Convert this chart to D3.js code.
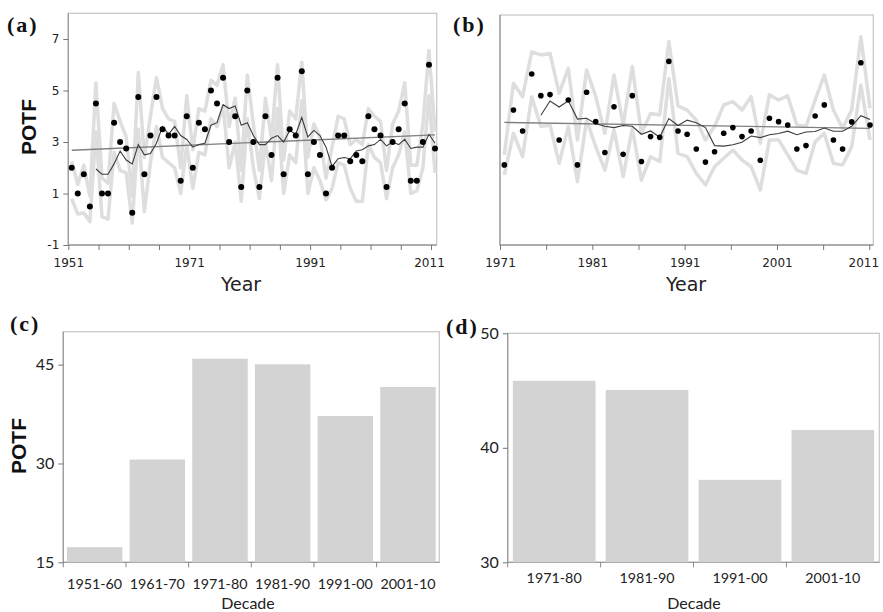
<!DOCTYPE html>
<html>
<head>
<meta charset="utf-8">
<script src="https://cdn.jsdelivr.net/npm/d3@7"></script>
<style>
  body { margin: 0; background: #fff; }
  svg { display: block; }
</style>
</head>
<body>
<div id="chart"></div>
<script>
// ---- data ----
const yearsA = d3.range(1951, 2012);
const potfA = [2.0, 1.0, 1.75, 0.5, 4.5, 1.0, 1.0, 3.75, 3.0, 2.75,
  0.25, 4.75, 1.75, 3.25, 4.75, 3.5, 3.25, 3.25, 1.5, 4.0,
  2.0, 3.75, 3.5, 5.0, 4.5, 5.5, 3.0, 4.0, 1.25, 5.0,
  3.0, 1.25, 4.0, 2.5, 5.5, 1.75, 3.5, 3.25, 5.75, 1.75,
  3.0, 2.5, 1.0, 2.0, 3.25, 3.25, 2.25, 2.5, 2.25, 4.0,
  3.5, 3.25, 1.25, 3.0, 3.5, 4.5, 1.5, 1.5, 3.0, 6.0,
  2.75];
const upperA = [2.25, 1.35, 2.1, 0.9, 5.3, 1.6, 1.4, 4.5, 3.8, 3.2,
  0.9, 5.7, 2.4, 4.0, 5.5, 4.3, 3.9, 3.8, 2.0, 4.8,
  2.7, 4.3, 4.2, 5.4, 5.2, 6.0, 3.6, 4.7, 1.9, 5.6,
  3.7, 1.9, 4.7, 3.1, 6.0, 2.3, 4.2, 3.9, 6.1, 2.4,
  3.7, 3.2, 1.6, 2.8, 4.0, 3.9, 2.9, 3.1, 2.9, 4.3,
  4.0, 3.8, 1.9, 3.7, 4.2, 5.3, 2.1, 2.1, 3.7, 6.55,
  3.4];
const lowerA = [0.8, 0.2, 0.25, -0.1, 3.4, 0.1, 0.0, 2.6, 1.9, 1.8,
  -0.15, 3.5, 0.3, 2.2, 3.6, 2.4, 2.2, 2.0, 1.0, 2.9,
  1.2, 2.6, 2.5, 3.9, 3.6, 4.4, 2.0, 3.0, 0.7, 3.9,
  2.0, 0.8, 3.0, 1.5, 4.3, 1.0, 2.5, 2.2, 4.6, 1.0,
  2.0, 1.5, 0.75, 1.2, 2.2, 2.1, 1.2, 0.7, 0.7, 2.9,
  2.4, 2.2, 0.8, 2.0, 2.5, 3.4, 1.0, 1.1, 2.0, 4.8,
  1.8];
const maYearsA = d3.range(1955, 2012);
const maA = [1.95, 1.75, 1.75, 2.15, 2.65, 2.3,
  2.15, 2.9, 2.5, 2.55, 2.95, 3.6, 3.3, 3.6, 3.25, 3.1,
  2.8, 2.9, 2.95, 3.65, 3.75, 4.45, 4.3, 4.4, 3.65, 3.75,
  3.25, 2.9, 2.9, 3.15, 3.25, 3.0, 3.45, 3.3, 3.95, 3.2,
  3.45, 3.25, 2.8, 2.05, 2.35, 2.4, 2.35, 2.65, 2.7, 2.85,
  2.9, 3.1, 2.85, 3.0, 2.9, 3.1, 2.75, 2.8, 2.8, 3.3,
  2.95];
const trendYearsA = [1951, 2011];
const trendA = [2.68, 3.28];

const yearsB = d3.range(1971, 2012);
const potfB = [2.11, 4.24, 3.43, 5.64, 4.80, 4.84, 3.08, 4.63, 2.11, 4.93,
  3.79, 2.59, 4.37, 2.52, 4.80, 2.24, 3.21, 3.18, 6.13, 3.43,
  3.30, 2.73, 2.22, 2.62, 3.34, 3.56, 3.21, 3.43, 2.29, 3.92,
  3.79, 3.66, 2.73, 2.86, 4.01, 4.44, 3.08, 2.73, 3.78, 6.08,
  3.66];
const upperB = [2.5, 5.28, 4.76, 6.5, 6.38, 6.44, 4.89, 5.86, 3.08, 5.8,
  4.76, 3.34, 5.6, 3.66, 5.93, 3.34, 4.11, 4.05, 6.9, 4.4,
  4.24, 3.85, 3.08, 3.6, 4.44, 4.57, 4.24, 4.76, 2.95, 4.83,
  4.63, 4.79, 3.66, 3.6, 4.63, 5.6, 4.24, 3.53, 4.24, 7.09,
  4.31];
const lowerB = [1.72, 3.34, 2.43, 4.76, 3.6, 3.66, 2.17, 3.6, 1.46, 3.85,
  2.82, 1.91, 3.47, 1.65, 3.53, 1.52, 2.43, 2.24, 5.47, 2.56,
  2.43, 1.78, 1.33, 2.04, 2.37, 2.69, 2.3, 2.04, 1.14, 3.08,
  3.08, 2.5, 1.91, 1.78, 3.01, 3.34, 2.17, 2.11, 2.82, 5.21,
  3.08];
const maYearsB = d3.range(1975, 2012);
const maB = [4.04, 4.59, 4.36, 4.60, 3.89, 3.92,
  3.71, 3.61, 3.56, 3.64, 3.61, 3.30, 3.43, 3.19, 3.91, 3.64,
  3.85, 3.75, 3.56, 2.86, 2.84, 2.89, 2.99, 3.23, 3.17, 3.28,
  3.33, 3.42, 3.28, 3.39, 3.41, 3.54, 3.42, 3.42, 3.61, 4.02,
  3.87];
const trendYearsB = [1971, 2011];
const trendB = [3.76, 3.53];

const decadesC = ["1951-60", "1961-70", "1971-80", "1981-90", "1991-00", "2001-10"];
const totalsC = [17.3, 30.6, 45.9, 45.05, 37.2, 41.6];
const decadesD = ["1971-80", "1981-90", "1991-00", "2001-10"];
const totalsD = [45.85, 45.05, 37.2, 41.55];

// ---- page ----
const width = 883, height = 612;
const frameColor = "#cacaca", axisColor = "#9c9c9c", textColor = "#222";
const lineGrey = "#dedede";

const svg = d3.select("#chart").append("svg")
  .attr("width", width)
  .attr("height", height)
  .style("background", "#fff");

function drawFrame(l, t, r, b) {
  svg.append("rect")
    .attr("x", l).attr("y", t)
    .attr("width", r - l).attr("height", b - t)
    .attr("fill", "none")
    .attr("stroke", frameColor)
    .attr("stroke-width", 1.3);
  svg.append("path")
    .attr("d", `M${l},${t}V${b}H${r}`)
    .attr("fill", "none")
    .attr("stroke", axisColor)
    .attr("stroke-width", 1.3);
}

function styleAxis(g, font, size) {
  g.select(".domain").remove();
  g.selectAll(".tick line").attr("stroke", "#777");
  g.selectAll(".tick text")
    .attr("fill", textColor)
    .style("font-family", font)
    .style("font-size", size + "px");
}

function panelLabel(txt, x, y) {
  svg.append("text")
    .attr("x", x).attr("y", y)
    .attr("fill", "#111")
    .style("font-family", "'Liberation Serif', 'DejaVu Serif', serif")
    .style("font-weight", "bold")
    .style("font-size", "22px")
    .style("letter-spacing", "2px")
    .text(txt);
}

function potfTitle(x, y) {
  svg.append("text")
    .attr("transform", `translate(${x},${y}) rotate(-90)`)
    .attr("text-anchor", "middle")
    .attr("fill", "#111")
    .style("font-family", "'Liberation Sans', Arial, sans-serif")
    .style("font-weight", "bold")
    .style("font-size", "21px")
    .text("POTF");
}

// time series panel (a) / (b)
function seriesPanel(p) {
  drawFrame(p.left, p.top, p.right, p.bottom);

  const y = d3.scaleLinear().domain([-1, 8]).range([245, 13.25]);

  const line = d3.line()
    .x(d => p.x(d[0]))
    .y(d => y(d[1]));

  [p.upper, p.lower].forEach(arr => {
    svg.append("path")
      .datum(d3.zip(p.years, arr))
      .attr("d", line)
      .attr("fill", "none")
      .attr("stroke", lineGrey)
      .attr("stroke-width", 3.5)
      .attr("stroke-linejoin", "round");
  });

  svg.append("path")
    .datum(d3.zip(p.trendYears, p.trend))
    .attr("d", line)
    .attr("fill", "none")
    .attr("stroke", "#808080")
    .attr("stroke-width", 1.3);

  svg.append("path")
    .datum(d3.zip(p.maYears, p.ma))
    .attr("d", line)
    .attr("fill", "none")
    .attr("stroke", "#3c3c3c")
    .attr("stroke-width", 1.1);

  svg.append("g")
    .selectAll("circle")
    .data(d3.zip(p.years, p.values))
    .enter().append("circle")
    .attr("cx", d => p.x(d[0]))
    .attr("cy", d => y(d[1]))
    .attr("r", p.r)
    .attr("fill", "#000");

  const xAxis = svg.append("g")
    .attr("transform", `translate(0,${p.bottom})`)
    .call(d3.axisBottom(p.xTicks)
      .tickValues(d3.range(p.tickStart, 2012, 5))
      .tickFormat(d => (d - p.tickStart) % p.labelStep === 0 ? d : "")
      .tickSize(5)
      .tickPadding(8));
  styleAxis(xAxis, "'DejaVu Sans', Verdana, sans-serif", 12);
  // last label is pulled in so it stays inside the page
  xAxis.selectAll(".tick text").filter(d => d === 2011)
    .attr("dx", p.lastShift);

  if (p.yLabels) {
    const yAxis = svg.append("g")
      .attr("transform", `translate(${p.left},0)`)
      .call(d3.axisLeft(y)
        .tickValues([-1, 1, 3, 5, 7])
        .tickFormat(d => String(d))
        .tickSize(5)
        .tickPadding(4));
    styleAxis(yAxis, "'DejaVu Sans', Verdana, sans-serif", 12);
  }

  svg.append("text")
    .attr("x", p.yearX).attr("y", 291)
    .attr("text-anchor", "middle")
    .attr("fill", textColor)
    .style("font-family", "'DejaVu Sans', Verdana, sans-serif")
    .style("font-size", "19px")
    .text("Year");
}

seriesPanel({
  left: 68.3, top: 13.3, right: 436.7, bottom: 245,
  x: d3.scaleLinear().domain([1951, 2011]).range([71.7, 435]),
  xTicks: d3.scaleLinear().domain([1951, 2011]).range([68.3, 431]),
  tickStart: 1951, labelStep: 20, lastShift: -2,
  years: yearsA, values: potfA, upper: upperA, lower: lowerA,
  maYears: maYearsA, ma: maA, trendYears: trendYearsA, trend: trendA,
  r: 3, yLabels: true, yearX: 241
});

seriesPanel({
  left: 500, top: 15, right: 873.3, bottom: 245,
  x: d3.scaleLinear().domain([1971, 2011]).range([504.3, 870]),
  xTicks: d3.scaleLinear().domain([1971, 2011]).range([500, 869.3]),
  tickStart: 1971, labelStep: 10, lastShift: -6,
  years: yearsB, values: potfB, upper: upperB, lower: lowerB,
  maYears: maYearsB, ma: maB, trendYears: trendYearsB, trend: trendB,
  r: 2.8, yLabels: false, yearX: 686
});

// bar panels (c) / (d)
function barPanel(p) {
  drawFrame(p.left, p.top, p.right, p.bottom);

  const x = d3.scaleBand()
    .domain(p.cats)
    .range([p.left, p.right])
    .paddingInner(p.padIn)
    .paddingOuter(p.padIn / 2);
  const y = d3.scaleLinear().domain(p.domain).range([p.bottom, p.top]);

  svg.append("g")
    .selectAll("rect")
    .data(d3.zip(p.cats, p.vals))
    .enter().append("rect")
    .attr("x", d => x(d[0]))
    .attr("y", d => y(d[1]))
    .attr("width", x.bandwidth())
    .attr("height", d => p.bottom - y(d[1]))
    .attr("fill", "#d3d3d3");

  // ticks sit between the bars
  const bounds = [p.left].concat(p.cats.slice(1).map((c, i) =>
    (x(p.cats[i]) + x.bandwidth() + x(c)) / 2));
  svg.append("g")
    .selectAll("line")
    .data(bounds)
    .enter().append("line")
    .attr("x1", d => d).attr("x2", d => d)
    .attr("y1", p.bottom).attr("y2", p.bottom + 5)
    .attr("stroke", "#888");

  const xAxis = svg.append("g")
    .attr("transform", `translate(0,${p.bottom})`)
    .call(d3.axisBottom(x).tickSize(0).tickPadding(p.xPad));
  styleAxis(xAxis, "Lato, 'Open Sans', sans-serif", 14.3);

  const yAxis = svg.append("g")
    .attr("transform", `translate(${p.left},0)`)
    .call(d3.axisLeft(y).tickValues(p.ticks).tickSize(5).tickPadding(4));
  styleAxis(yAxis, "Lato, 'Open Sans', sans-serif", 16);

  svg.append("text")
    .attr("x", p.decadeX).attr("y", 608.5)
    .attr("text-anchor", "middle")
    .attr("fill", textColor)
    .style("font-family", "Lato, 'Open Sans', sans-serif")
    .style("font-size", "16px")
    .text("Decade");
}

barPanel({
  left: 63.3, top: 331.7, right: 439.3, bottom: 562.3,
  cats: decadesC, vals: totalsC, domain: [15, 50], ticks: [15, 30, 45],
  padIn: 0.115, xPad: 17, decadeX: 248
});

barPanel({
  left: 507.7, top: 333.3, right: 879.3, bottom: 562.3,
  cats: decadesD, vals: totalsD, domain: [30, 50], ticks: [30, 40, 50],
  padIn: 0.11, xPad: 10.5, decadeX: 694
});

potfTitle(36, 127);
potfTitle(26, 446);

panelLabel("(a)", 7, 32);
panelLabel("(b)", 453, 32);
panelLabel("(c)", 10, 331);
panelLabel("(d)", 446, 334);
</script>
</body>
</html>
